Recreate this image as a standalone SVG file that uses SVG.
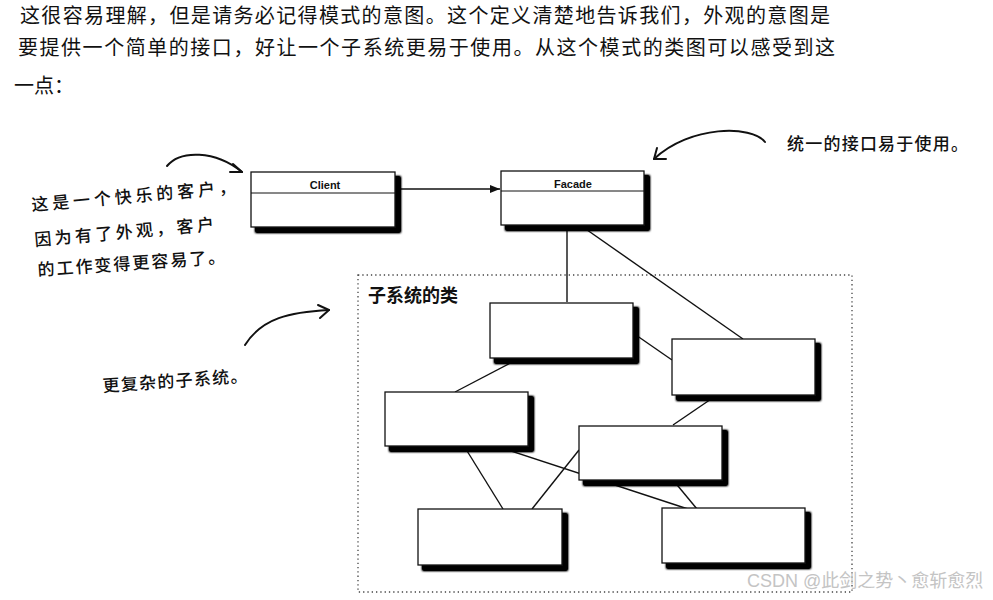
<svg xmlns="http://www.w3.org/2000/svg" width="993" height="600" viewBox="0 0 993 600">
<defs>
<style>
.body{font-family:"Noto Sans CJK SC","Liberation Serif",serif;font-size:20px;fill:#111}
.hand{font-family:"Noto Sans CJK SC","Liberation Sans",sans-serif;font-size:17px;fill:#111;font-weight:500}
.box{fill:#fff;stroke:#111;stroke-width:1.3}
.lbl{font-family:"Liberation Sans",Arial,sans-serif;font-size:11px;font-weight:bold;fill:#111;text-anchor:middle}
.con{stroke:#111;stroke-width:1.4;fill:none}
.curve{stroke:#111;stroke-width:2;fill:none;stroke-linecap:round;stroke-linejoin:round}
</style>
<filter id="sh" x="-10%" y="-10%" width="125%" height="140%">
<feOffset in="SourceAlpha" dx="4.5" dy="4.5" result="o"/>
<feGaussianBlur in="o" stdDeviation="1.2" result="b"/>
<feComponentTransfer in="b" result="c"><feFuncA type="linear" slope="2"/></feComponentTransfer>
<feMerge><feMergeNode in="c"/><feMergeNode in="SourceGraphic"/></feMerge>
</filter>
<marker id="tri" viewBox="0 0 10 10" refX="10" refY="5" markerWidth="10" markerHeight="10" markerUnits="userSpaceOnUse" orient="auto">
<path d="M0,1 L10,5 L0,9 z" fill="#111"/>
</marker>
</defs>
<rect width="993" height="600" fill="#fff"/>

<g id="intro">
<text class="body" x="20" y="23" textLength="810" lengthAdjust="spacing">这很容易理解，但是请务必记得模式的意图。这个定义清楚地告诉我们，外观的意图是</text>
<text class="body" x="18" y="55" textLength="817" lengthAdjust="spacing">要提供一个简单的接口，好让一个子系统更易于使用。从这个模式的类图可以感受到这</text>
<text class="body" x="14" y="93">一点：</text>
</g>

<g id="subsystem-frame">
<rect x="358" y="275" width="494" height="317" fill="none" stroke="#444" stroke-width="1.3" stroke-dasharray="1.3 3"/>
<text x="368" y="302" style="font-family:'Noto Sans CJK SC',sans-serif;font-size:18px;font-weight:bold;fill:#111">子系统的类</text>
</g>

<g id="connectors">
<line class="con" x1="395" y1="189" x2="500" y2="189" marker-end="url(#tri)"/>
<line class="con" x1="567" y1="225" x2="567" y2="302"/>
<line class="con" x1="580" y1="225" x2="743" y2="339"/>
<line class="con" x1="633" y1="333" x2="672" y2="360"/>
<line class="con" x1="520" y1="358" x2="455" y2="392"/>
<line class="con" x1="717" y1="395" x2="673" y2="425"/>
<line class="con" x1="464" y1="446" x2="503" y2="509"/>
<line class="con" x1="505" y1="449" x2="688" y2="509"/>
<line class="con" x1="532" y1="509" x2="579" y2="450"/>
<line class="con" x1="673" y1="480" x2="697" y2="509"/>
</g>

<g id="client">
<rect class="box" x="251" y="172" width="144" height="55" filter="url(#sh)"/>
<line x1="251" y1="193" x2="395" y2="193" stroke="#111" stroke-width="1"/>
<text class="lbl" x="325" y="189">Client</text>
</g>

<g id="facade">
<rect class="box" x="501" y="171" width="143" height="54" filter="url(#sh)"/>
<line x1="501" y1="191" x2="644" y2="191" stroke="#111" stroke-width="1"/>
<text class="lbl" x="573" y="188">Facade</text>
</g>

<g id="sub-a"><rect class="box" x="490" y="303" width="143" height="55" filter="url(#sh)"/></g>
<g id="sub-b"><rect class="box" x="672" y="339" width="143" height="56" filter="url(#sh)"/></g>
<g id="sub-c"><rect class="box" x="385" y="392" width="143" height="54" filter="url(#sh)"/></g>
<g id="sub-d"><rect class="box" x="579" y="426" width="143" height="54" filter="url(#sh)"/></g>
<g id="sub-e"><rect class="box" x="418" y="509" width="144" height="56" filter="url(#sh)"/></g>
<g id="sub-f"><rect class="box" x="662" y="508" width="143" height="55" filter="url(#sh)"/></g>

<g id="note-client">
<text class="hand" transform="translate(32,211) rotate(-5)" textLength="205" lengthAdjust="spacing">这是一个快乐的客户，</text>
<text class="hand" transform="translate(35,246) rotate(-5)" textLength="180" lengthAdjust="spacing">因为有了外观，客户</text>
<text class="hand" transform="translate(38,276) rotate(-4)" textLength="188" lengthAdjust="spacing">的工作变得更容易了。</text>
<path class="curve" d="M167,166 C180,150 215,150 242,172"/>
<path class="curve" d="M233,164 L242,172 L230,172"/>
</g>

<g id="note-facade">
<text class="hand" x="787" y="150" textLength="181" lengthAdjust="spacing">统一的接口易于使用。</text>
<path class="curve" d="M765,142 C752,125 690,125 654,159"/>
<path class="curve" d="M657,148 L654,159 L666,159"/>
</g>

<g id="note-subsystem">
<text class="hand" transform="translate(103,392) rotate(-4)" textLength="145" lengthAdjust="spacing">更复杂的子系统。</text>
<path class="curve" d="M245,345 C262,318 290,312 329,310"/>
<path class="curve" d="M318,305 L329,310 L320,318"/>
</g>

<text x="747" y="587" style="font-family:'Liberation Sans','Noto Sans CJK SC',sans-serif;font-size:18px;fill:#c4c4c4">CSDN @此剑之势丶愈斩愈烈</text>
</svg>
